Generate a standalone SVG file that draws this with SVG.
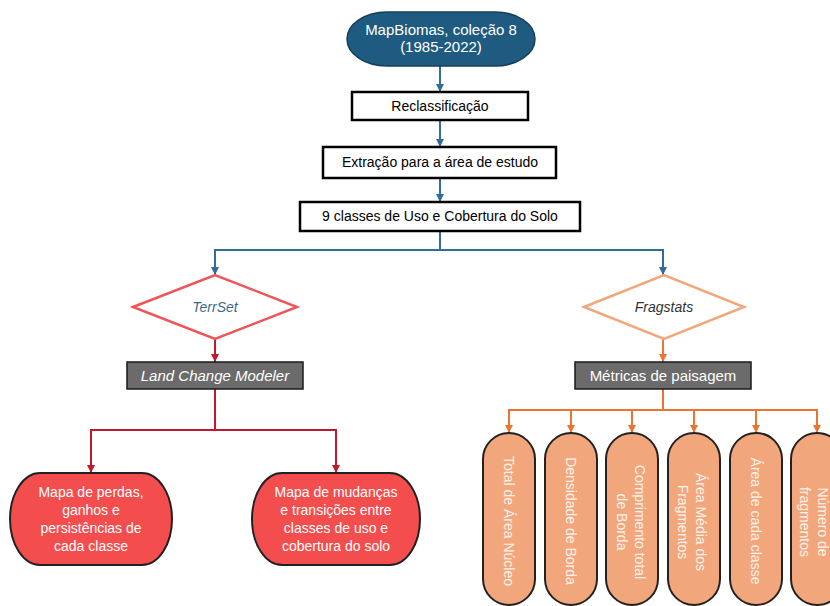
<svg xmlns="http://www.w3.org/2000/svg" width="830" height="606" viewBox="0 0 830 606">
<defs>
<style>
text{font-family:"Liberation Sans",Arial,sans-serif;font-size:14px;text-anchor:middle}
.w{fill:#ffffff}
.pt{fill:#fff3ea}
.box{fill:#ffffff;stroke:#000000;stroke-width:2.5}
.gbox{fill:#6b6b6b;stroke:#1a1a1a;stroke-width:1.5}
.blue{stroke:#2f6e98;stroke-width:2;fill:none}
.red{stroke:#c0182c;stroke-width:2;fill:none}
.org{stroke:#eb7433;stroke-width:2;fill:none}
.rnode{fill:#f34d4e;stroke:#222222;stroke-width:2}
.pill{fill:#f2a67c;stroke:#222222;stroke-width:2}
</style>
<marker id="ab" markerWidth="8" markerHeight="8" refX="4" refY="7" orient="auto-start-reverse" markerUnits="userSpaceOnUse" viewBox="0 0 8 8"><path d="M0,0 L8,0 L4,8 Z" fill="#2f6e98" transform="rotate(-90 4 4)"/></marker>
</defs>
<defs>
<marker id="mb" markerWidth="8" markerHeight="8" refX="8" refY="4" orient="auto" markerUnits="userSpaceOnUse" viewBox="0 0 8 8"><path d="M0,0 L8,4 L0,8 Z" fill="#2f6e98"/></marker>
<marker id="mr" markerWidth="8" markerHeight="8" refX="8" refY="4" orient="auto" markerUnits="userSpaceOnUse" viewBox="0 0 8 8"><path d="M0,0 L8,4 L0,8 Z" fill="#c0182c"/></marker>
<marker id="mo" markerWidth="8" markerHeight="8" refX="8" refY="4" orient="auto" markerUnits="userSpaceOnUse" viewBox="0 0 8 8"><path d="M0,0 L8,4 L0,8 Z" fill="#eb7433"/></marker>
</defs>
<rect width="830" height="606" fill="#ffffff"/>
<g id="connectors">
<path class="blue" d="M440,66 V92" marker-end="url(#mb)"/>
<path class="blue" d="M440,120 V147" marker-end="url(#mb)"/>
<path class="blue" d="M440,178 V202" marker-end="url(#mb)"/>
<path class="blue" d="M440,231 V250 H215 V275" marker-end="url(#mb)"/>
<path class="blue" d="M440,250 H663 V275" marker-end="url(#mb)"/>
<path class="red" d="M215,339 V362" marker-end="url(#mr)"/>
<path class="red" d="M215,389 V430 H91 V473" marker-end="url(#mr)"/>
<path class="red" d="M215,430 H336 V473" marker-end="url(#mr)"/>
<path class="org" d="M663,339 V362" marker-end="url(#mo)"/>
<path class="org" d="M663,389 V410 H509 V433" marker-end="url(#mo)"/>
<path class="org" d="M509,410 H817 V433" marker-end="url(#mo)"/>
<path class="org" d="M571,410 V433" marker-end="url(#mo)"/>
<path class="org" d="M632,410 V433" marker-end="url(#mo)"/>
<path class="org" d="M694,410 V433" marker-end="url(#mo)"/>
<path class="org" d="M756,410 V433" marker-end="url(#mo)"/>
</g>
<g id="mapbiomas">
<rect x="347" y="12" width="188" height="54" rx="40" ry="27" fill="#1f5b80" stroke="#173f58" stroke-width="1.5"/>
<text class="w" x="441" y="35" style="font-size:15px">MapBiomas, coleção 8</text>
<text class="w" x="441" y="52" style="font-size:15px">(1985-2022)</text>
</g>
<g id="reclass">
<rect class="box" x="352" y="92" width="176" height="28"/>
<text x="440" y="111">Reclassificação</text>
</g>
<g id="extracao">
<rect class="box" x="323" y="147" width="233" height="31"/>
<text x="440" y="167">Extração para a área de estudo</text>
</g>
<g id="classes">
<rect class="box" x="300" y="202" width="280" height="29"/>
<text x="440" y="221">9 classes de Uso e Cobertura do Solo</text>
</g>
<g id="terrset">
<path d="M133,307 L215,275 L297,307 L215,339 Z" fill="#ffffff" stroke="#f05456" stroke-width="2.5"/>
<text x="215" y="312" style="font-style:italic;fill:#3b6b90">TerrSet</text>
</g>
<g id="lcm">
<rect class="gbox" x="127" y="362" width="176" height="27"/>
<text class="w" x="215" y="381" style="font-style:italic;font-size:15px">Land Change Modeler</text>
</g>
<g id="fragstats">
<path d="M584,307 L664,275 L744,307 L664,339 Z" fill="#ffffff" stroke="#f2a67c" stroke-width="2.5"/>
<text x="664" y="312" style="font-style:italic;fill:#333333">Fragstats</text>
</g>
<g id="metricas">
<rect class="gbox" x="575" y="362" width="176" height="27"/>
<text class="w" x="663" y="381" style="font-size:15px">Métricas de paisagem</text>
</g>
<g id="mapa-perdas">
<rect class="rnode" x="10" y="473" width="162" height="92" rx="30" ry="46"/>
<text class="w" x="91" y="497">Mapa de perdas,</text>
<text class="w" x="91" y="515">ganhos e</text>
<text class="w" x="91" y="533">persistências de</text>
<text class="w" x="91" y="551">cada classe</text>
</g>
<g id="mapa-mudancas">
<rect class="rnode" x="252" y="473" width="168" height="92" rx="30" ry="46"/>
<text class="w" x="336" y="497">Mapa de mudanças</text>
<text class="w" x="336" y="515">e transições entre</text>
<text class="w" x="336" y="533">classes de uso e</text>
<text class="w" x="336" y="551">cobertura do solo</text>
</g>
<g id="total-area-nucleo">
<rect class="pill" x="483" y="433" width="52" height="172" rx="26" ry="26"/>
<text class="pt" transform="translate(504,521) rotate(90)">Total de Área Núcleo</text>
</g>
<g id="densidade-borda">
<rect class="pill" x="545" y="433" width="52" height="172" rx="26" ry="26"/>
<text class="pt" transform="translate(566,521) rotate(90)">Densidade de Borda</text>
</g>
<g id="comprimento-borda">
<rect class="pill" x="606" y="433" width="52" height="172" rx="26" ry="26"/>
<text class="pt" transform="translate(635,522) rotate(90)">Comprimento total</text>
<text class="pt" transform="translate(617,522) rotate(90)">de Borda</text>
</g>
<g id="area-media">
<rect class="pill" x="668" y="433" width="52" height="172" rx="26" ry="26"/>
<text class="pt" transform="translate(696,522) rotate(90)">Área Média dos</text>
<text class="pt" transform="translate(678,522) rotate(90)">Fragmentos</text>
</g>
<g id="area-classe">
<rect class="pill" x="730" y="433" width="52" height="172" rx="26" ry="26"/>
<text class="pt" transform="translate(751,521) rotate(90)">Área de cada classe</text>
</g>
<g id="numero-fragmentos">
<rect class="pill" x="791" y="433" width="52" height="172" rx="26" ry="26"/>
<text class="pt" transform="translate(818,522) rotate(90)">Número de</text>
<text class="pt" transform="translate(800,522) rotate(90)">fragmentos</text>
</g>
</svg>
